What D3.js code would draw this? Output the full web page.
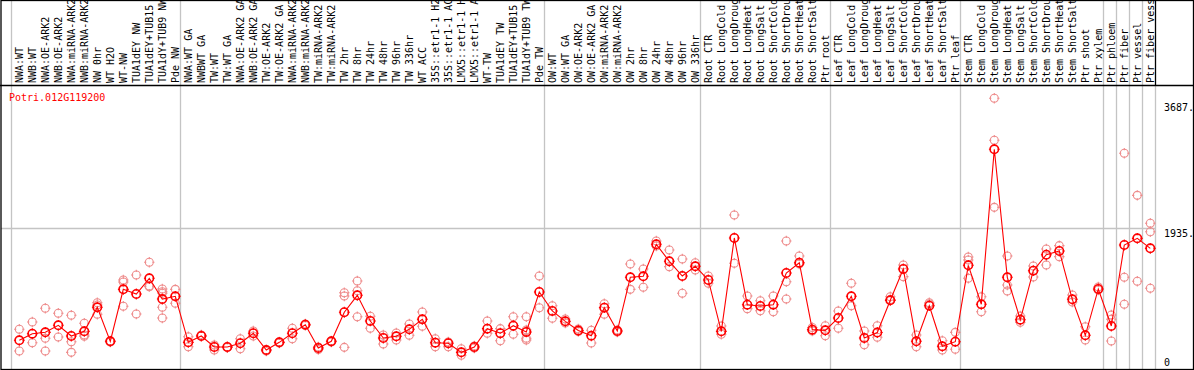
<!DOCTYPE html>
<html>
<head>
    <meta charset="utf-8">
    <title>Potri.012G119200</title>
    <style>
        body{ margin: 0; background: white; }
        svg{ display: block; }
        text{ font-family: "DejaVu Sans Mono", monospace; font-size: 10px; }
    </style>
    <script src="https://d3js.org/d3.v7.min.js"></script>
</head>
<body>
    <svg width="1194" height="370"></svg>

    <script>
        var geneName = "Potri.012G119200";

        var labels = [
            "NWA:WT", "NWB:WT", "NWA:OE-ARK2", "NWB:OE-ARK2", "NWA:miRNA-ARK2", "NWB:miRNA-ARK2",
            "NW 0hr", "WT H2O", "WT-NW", "TUA1dEY NW", "TUA1dEY+TUB15", "TUA1dY+TUB9 NW", "Pde NW",
            "NWA:WT GA", "NWBWT GA", "TW:WT", "TW:WT GA", "NWA:OE-ARK2 GA", "NWB:OE-ARK2 GA",
            "TW:OE-ARK2", "TW:OE-ARK2 GA", "NWA:miRNA-ARK2", "NWB:miRNA-ARK2", "TW:miRNA-ARK2",
            "TW:miRNA-ARK2", "TW 2hr", "TW 8hr", "TW 24hr", "TW 48hr", "TW 96hr", "TW 336hr",
            "WT ACC", "35S::etr1-1 H2", "35S::etr1-1 AC", "LMX5::etr1-1 H", "LMX5::etr1-1 A",
            "WT-TW", "TUA1dEY TW", "TUA1dEY+TUB15", "TUA1dY+TUB9 TW", "Pde TW",
            "OW:WT", "OW:WT GA", "OW:OE-ARK2", "OW:OE-ARK2 GA", "OW:miRNA-ARK2", "OW:miRNA-ARK2",
            "OW 2hr", "OW 8hr", "OW 24hr", "OW 48hr", "OW 96hr", "OW 336hr",
            "Root CTR", "Root LongCold", "Root LongDroug", "Root LongHeat", "Root LongSalt",
            "Root ShortCold", "Root ShortDrou", "Root ShortHeat", "Root ShortSalt", "Ptr root",
            "Leaf CTR", "Leaf LongCold", "Leaf LongDroug", "Leaf LongHeat", "Leaf LongSalt",
            "Leaf ShortCold", "Leaf ShortDrou", "Leaf ShortHeat", "Leaf ShortSalt", "Ptr leaf",
            "Stem CTR", "Stem LongCold", "Stem LongDroug", "Stem LongHeat", "Stem LongSalt",
            "Stem ShortCold", "Stem ShortDrou", "Stem ShortHeat", "Stem ShortSalt", "Ptr shoot",
            "Ptr xylem", "Ptr phloem", "Ptr fiber", "Ptr vessel", "Ptr fiber vess"
        ];

        // index of first sample in each block (grey separators)
        var groupStarts = [0, 13, 41, 53, 63, 73, 84, 85, 86, 87];

        var means = [
            371, 463, 482, 580, 431, 496, 830, 357, 1080, 1015, 1233, 945, 983,
            343, 431, 278, 278, 330, 469, 236, 343, 469, 588, 264, 357, 761, 997, 640, 403,
            427, 524, 663, 338, 330, 204, 278, 533, 469, 574, 487, 1043,
            779, 635, 507, 434, 825, 500, 1247, 1261, 1706, 1470, 1265, 1400,
            1210, 496, 1794, 866, 848, 866, 1307, 1450, 519, 510,
            681, 983, 403, 480, 927, 1363, 357, 852, 288, 352,
            1414, 872, 3027, 1247, 658, 1339, 1561, 1613, 941, 441, 1085,
            570, 1696, 1789, 1650
        ];

        var replicates = [
            [524, 222], [626, 338], [816, 399, 222], [747, 417], [719, 352, 204], [608, 445, 427],
            [894, 862, 733], [361, 348], [1210, 1182, 844], [1279, 737], [1456, 1126, 1117],
            [1084, 1047, 1025, 830, 681], [1080, 886],
            [421, 282], [445, 431], [306, 236], [278, 271], [393, 254], [500, 431], [236, 222],
            [348, 334], [538, 393], [598, 577], [278, 243], [361, 348], [1033, 987, 273],
            [1196, 1061, 699], [705, 538], [445, 320], [473, 375], [598, 441], [765, 566],
            [393, 282], [348, 282], [254, 163], [292, 264], [640, 469], [533, 366], [699, 455],
            [699, 514, 399, 375], [1265, 824],
            [852, 677], [667, 612], [528, 494], [510, 334], [880, 733], [514, 487],
            [1432, 1080], [1363, 1108], [1752, 1682], [1627, 1395], [1502, 1025], [1450, 1349],
            [1265, 1164], [570, 455], [2113, 1442], [987, 811], [922, 783], [987, 769],
            [1752, 1186, 945], [1543, 1432], [549, 500], [574, 435],
            [779, 538], [1164, 852], [500, 310], [574, 413], [977, 938], [1418, 1256],
            [445, 282], [894, 876], [366, 236], [482, 246],
            [1529, 1488, 1233], [977, 769], [3736, 3152, 2220], [1543, 1140, 1057], [709, 621],
            [1404, 1251], [1641, 1418], [1687, 1534], [1001, 904], [560, 375], [1112, 1071],
            [723, 663, 361], [2971, 1247, 872], [2387, 1192], [1998, 1881, 1094]
        ];

        var tickValues = [0, 1935, 3687];
        var tickLabels = ["0", "1935.", "3687."];

        var width = 1194, height = 370;
        var plotLeft = 1, plotRight = 1155.5, headerBottom = 85, plotBottom = 369;

        var svg = d3.select("svg");

        var x = d3.scalePoint()
            .domain(d3.range(labels.length))
            .range([19.3, 1150.3]);

        var y = d3.scaleLinear()
            .domain([0, 3921])
            .range([367, headerBottom]);

        // grid line at middle tick
        svg.append("line")
            .attr("x1", plotLeft).attr("x2", plotRight)
            .attr("y1", Math.round(y(1935)) + 0.5).attr("y2", Math.round(y(1935)) + 0.5)
            .attr("stroke", "#c4c4c4").attr("stroke-width", 1.3);

        // grey block separators
        svg.selectAll("line.sep")
            .data(groupStarts)
            .join("line")
            .attr("class", "sep")
            .attr("x1", d => Math.round(x(d) - 8) + 0.5)
            .attr("x2", d => Math.round(x(d) - 8) + 0.5)
            .attr("y1", 0).attr("y2", plotBottom)
            .attr("stroke", "#c4c4c4").attr("stroke-width", 1.3);

        svg.append("line")
            .attr("x1", plotRight).attr("x2", plotRight)
            .attr("y1", headerBottom).attr("y2", plotBottom)
            .attr("stroke", "#c4c4c4").attr("stroke-width", 1.3);
        svg.append("line")
            .attr("x1", plotRight).attr("x2", plotRight)
            .attr("y1", 0).attr("y2", headerBottom)
            .attr("stroke", "black").attr("stroke-width", 1.3);

        // frame
        svg.append("rect")
            .attr("x", 1).attr("y", 0.5)
            .attr("width", width - 1.5).attr("height", plotBottom)
            .attr("fill", "none").attr("stroke", "black").attr("stroke-width", 1.3);
        svg.append("line")
            .attr("x1", 0).attr("x2", width)
            .attr("y1", headerBottom + 0.5).attr("y2", headerBottom + 0.5)
            .attr("stroke", "black").attr("stroke-width", 1.3);

        // sample names, written upwards
        svg.selectAll("text.lab")
            .data(labels)
            .join("text")
            .attr("class", "lab")
            .attr("transform", (d, i) => "translate(" + x(i) + "," + (headerBottom - 2) + ") rotate(-90)")
            .attr("dy", "0.35em")
            .attr("fill", "black")
            .text(d => d);

        // title
        svg.append("text")
            .attr("x", 9).attr("y", 101)
            .attr("fill", "red")
            .text(geneName);

        // value labels at right
        svg.selectAll("text.tick")
            .data(tickValues)
            .join("text")
            .attr("class", "tick")
            .attr("x", 1164)
            .attr("y", d => Math.min(y(d) + 9, plotBottom - 3))
            .attr("fill", "black")
            .text((d, i) => tickLabels[i]);

        function tickPath(cx, cy, r) {
            return "M" + cx + "," + (cy - r - 1.2) + "v2.2" +
                   "M" + cx + "," + (cy + r - 1) + "v2.2" +
                   "M" + (cx - r - 1.2) + "," + cy + "h2.2" +
                   "M" + (cx + r - 1) + "," + cy + "h2.2";
        }

        // replicate points
        var repPts = [];
        replicates.forEach((arr, i) => arr.forEach(v => repPts.push({i: i, v: v})));

        var repG = svg.append("g")
            .attr("fill", "none")
            .attr("stroke", "#ee8c8c")
            .attr("stroke-width", 1.1);
        repG.selectAll("circle")
            .data(repPts)
            .join("circle")
            .attr("cx", d => x(d.i))
            .attr("cy", d => y(d.v))
            .attr("r", 4);
        repG.selectAll("path")
            .data(repPts)
            .join("path")
            .attr("d", d => tickPath(x(d.i), y(d.v), 4));

        // mean line
        var line = d3.line()
            .x((d, i) => x(i))
            .y(d => y(d));

        svg.append("path")
            .datum(means)
            .attr("fill", "none")
            .attr("stroke", "red")
            .attr("stroke-width", 1.1)
            .attr("d", line);

        var meanG = svg.append("g")
            .attr("fill", "none")
            .attr("stroke", "red")
            .attr("stroke-width", 1.6);
        meanG.selectAll("circle")
            .data(means)
            .join("circle")
            .attr("cx", (d, i) => x(i))
            .attr("cy", d => y(d))
            .attr("r", 4.2);
        meanG.selectAll("path")
            .data(means)
            .join("path")
            .attr("stroke-width", 1.1)
            .attr("d", (d, i) => tickPath(x(i), y(d), 4.2));
    </script>
</body>
</html>
